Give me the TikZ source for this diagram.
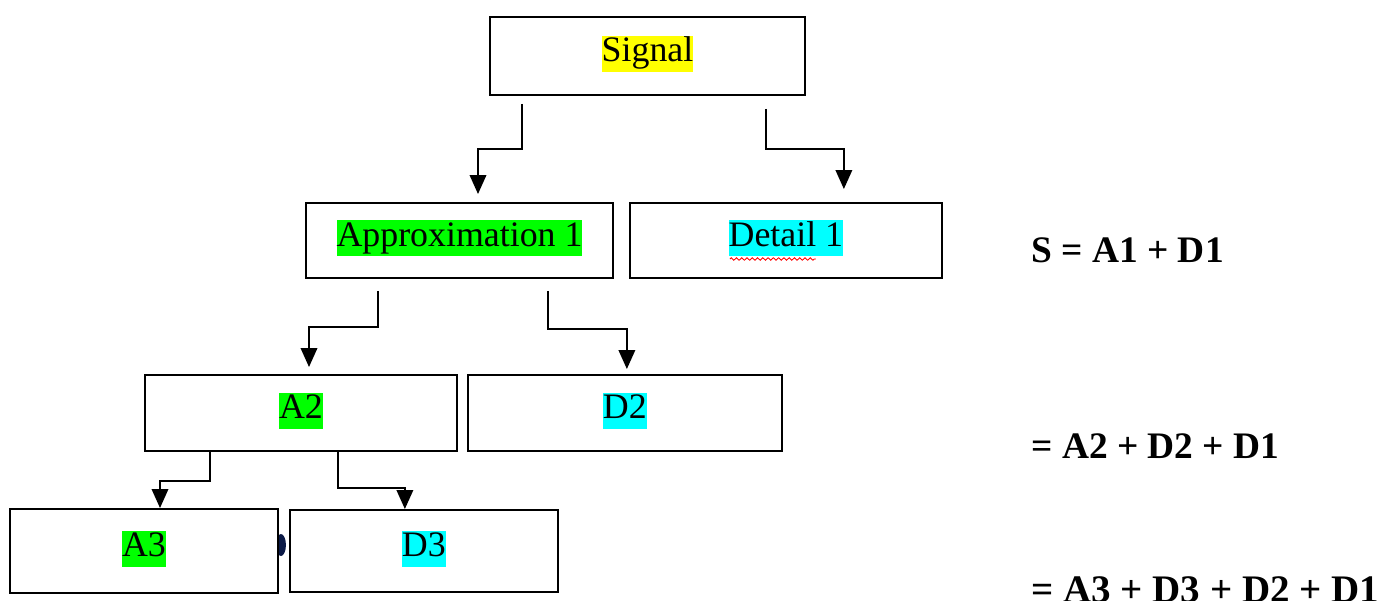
\documentclass[tikz,border=0pt]{standalone}
\usepackage{fontspec}
\setmainfont{Liberation Serif}
\usetikzlibrary{arrows.meta,positioning,calc,backgrounds,decorations.pathmorphing}
\definecolor{hlyellow}{RGB}{255,255,0}
\definecolor{hlgreen}{RGB}{0,255,0}
\definecolor{hlcyan}{RGB}{0,255,255}
\definecolor{blobblue}{RGB}{10,25,70}
\tikzstyle{block} = [rectangle, draw, line width=1.1pt, fill=white, inner sep=0pt, text height=14.8pt, text depth=8pt, font=\fontsize{20.4}{24}\selectfont]
\tikzstyle{branch} = [draw, line width=1.1pt, -{Triangle[length=0.38cm,width=0.33cm]}]
\tikzstyle{eqn} = [anchor=base west, inner sep=0pt, font=\fontsize{21.3}{25}\selectfont\bfseries]
\newcommand{\marked}[2]{{\setlength{\fboxsep}{0pt}\colorbox{#1}{\rule[-0.27em]{0pt}{1em}#2}}}

\begin{document}
\begin{tikzpicture}[x=0.02cm,y=-0.02cm]
    \useasboundingbox (0,0) rectangle (1395,601);

    \node [block, minimum width=6.3cm, minimum height=1.56cm] (signal) at (647.5,56) {\marked{hlyellow}{Signal}};
    \node [block, minimum width=6.14cm, minimum height=1.5cm] (approx1) at (459.5,240.5) {\marked{hlgreen}{Approximation 1}};
    \node [block, minimum width=6.24cm, minimum height=1.5cm, right=0.3cm of approx1] (detail1) {\marked{hlcyan}{Detail 1}};
    \node [block, minimum width=6.24cm, minimum height=1.52cm] (a2) at (301,413) {\marked{hlgreen}{A2}};
    \node [block, minimum width=6.28cm, minimum height=1.52cm, right=0.18cm of a2] (d2) {\marked{hlcyan}{D2}};
    \node [block, minimum width=5.36cm, minimum height=1.68cm] (a3) at (144,551) {\marked{hlgreen}{A3}};
    \node [block, minimum width=5.36cm, minimum height=1.64cm, right=0.2cm of a3] (d3) {\marked{hlcyan}{D3}};

    \node [eqn] (eq1) at (1031,262) {S = A1 + D1};
    \node [eqn] (eq2) at (1031,458) {= A2 + D2 + D1};
    \node [eqn, font=\fontsize{22.2}{26}\selectfont\bfseries] (eq3) at (1031,602) {= A3 + D3 + D2 + D1};

    % spell check mark and stray blob
    \draw[red, line width=0.5pt, decorate, decoration={zigzag, amplitude=0.7pt, segment length=3pt}] ($(detail1.center)+(-56,18.5)$) -- ($(detail1.center)+(30,18.5)$);
    \begin{scope}[on background layer]
        \fill[blobblue] ($(a3.east)+(2,-6)$) ellipse (5 and 11);
    \end{scope}

    \draw[branch, shorten >=0.16cm] ($(signal.south)+(-125.5,8)$) |- ($(approx1.north)+(18.5,-53)$) -- ($(approx1.north)+(18.5,0)$);
    \draw[branch, shorten >=0.26cm] ($(signal.south)+(118.5,13)$) |- ($(detail1.north)+(58,-53)$) -- ($(detail1.north)+(58,0)$);
    \draw[branch, shorten >=0.14cm] ($(approx1.south)+(-81.5,12)$) |- ($(a2.north)+(8,-47)$) -- ($(a2.north)+(8,0)$);
    \draw[branch, shorten >=0.1cm] ($(approx1.south)+(88.5,12)$) |- ($(d2.north)+(2,-45)$) -- ($(d2.north)+(2,0)$);
    \draw[branch] ($(a2.south)+(-91,0)$) |- ($(a3.north)+(16,-27)$) -- ($(a3.north)+(16,0)$);
    \draw[branch] ($(a2.south)+(37,0)$) |- ($(d3.north)+(-19,-21)$) -- ($(d3.north)+(-19,0)$);
\end{tikzpicture}
\end{document}
